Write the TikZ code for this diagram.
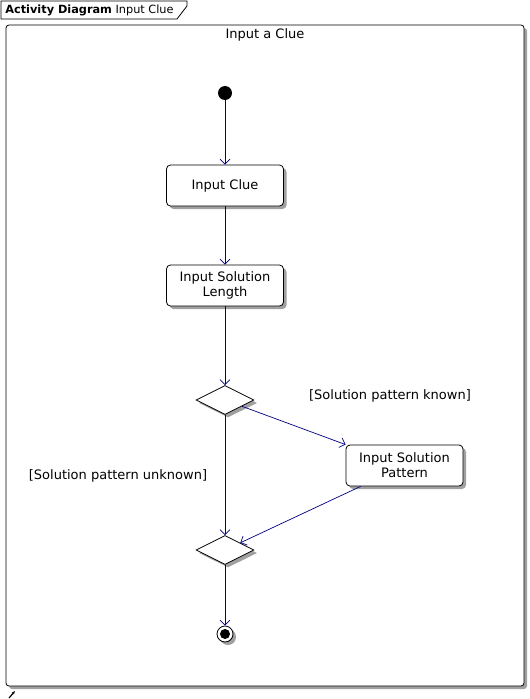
\documentclass[tikz,border=0pt]{standalone}
\usepackage{fontspec}
\setmainfont{DejaVu Sans}
\usetikzlibrary{arrows.meta,shapes.geometric,shadows}
\definecolor{flowblue}{RGB}{0,0,128}
\definecolor{shadowgray}{RGB}{160,160,160}

\begin{document}
\begin{tikzpicture}[x=1pt,y=-1pt,line width=0.8pt,
    font=\fontsize{13}{15}\selectfont,
    gray shadow/.style={drop shadow={shadow xshift=3pt,shadow yshift=-3pt,
                                     fill=shadowgray,opacity=1}}]
    \useasboundingbox (0,0) rectangle (530,699);

    % frame and its tab
    \draw[rounded corners=3pt,fill=white,gray shadow] (6,25) rectangle (524,686);
    \draw (1,1) -- (187,1) -- (187,6) -- (177,19) -- (1,19) -- cycle;
    \node[anchor=west,inner sep=0pt,font=\fontsize{11.3}{13}\selectfont] (tab) at (5,10.5)
      {\textbf{Activity Diagram} Input Clue};
    \node (title) at (265,34.5) {Input a Clue};

    \begin{scope} [action style/.style={draw,
                                        rectangle,
                                        rounded corners=4pt,
                                        fill=white,
                                        minimum width=117pt,
                                        minimum height=41pt,
                                        align=center,
                                        inner sep=2pt,
                                        gray shadow},
                   branch style/.style={draw,
                                        diamond,
                                        fill=white,
                                        minimum width=58pt,
                                        minimum height=29pt,
                                        inner sep=0pt,
                                        gray shadow}]
      \node[circle,fill=black,minimum size=14pt,inner sep=0pt] (start) at (225,93) {};
      \node[action style] (clue) at (225,185.5) {Input Clue};
      \node[action style] (length) at (225,285.5) {Input Solution\\Length};
      \node[branch style] (branch1) at (225,400) {};
      \node[action style] (pattern) at (404.5,465.5) {Input Solution\\Pattern};
      \node[branch style] (branch2) at (225,550) {};
      \node[circle,draw,fill=white,minimum size=16pt,inner sep=0pt,gray shadow] (stop) at (225,634) {};
      \node[circle,fill=black,minimum size=10pt,inner sep=0pt] (stopdot) at (stop) {};
    \end{scope}

    \node (known) at (390,395.5) {[Solution pattern known]};
    \node (unknown) at (118,475.5) {[Solution pattern unknown]};

    \begin{scope} [flow style/.style={draw=flowblue,
                                      line width=0.7pt,
                                      -{Straight Barb[length=5pt,width=10pt]}}]
      \draw[flow style] (start) -- (clue);
      \draw[flow style] (clue) -- (length);
      \draw[flow style] (length) -- (branch1);
      \draw[flow style] (branch1) -- (pattern.north west);
      \draw[flow style] (branch1) -- (branch2);
      \draw[flow style] ([xshift=15pt]pattern.south west) -- (branch2);
      \draw[flow style] (branch2) -- (stop);
    \end{scope}

    % small corner mark
    \coordinate (markfrom) at (9,698);
    \coordinate (markto) at (15,691);
    \draw[line width=1.2pt,-{Stealth[length=3.5pt]}] (markfrom) -- (markto);
\end{tikzpicture}
\end{document}
